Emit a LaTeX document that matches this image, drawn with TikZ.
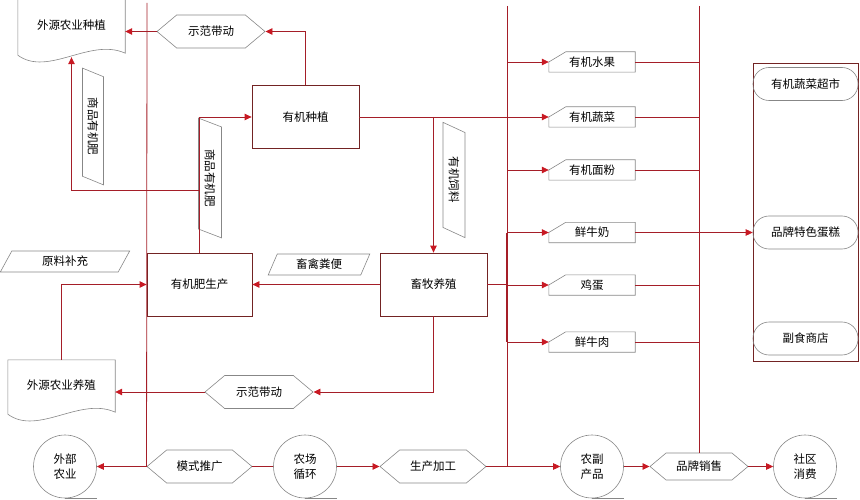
\documentclass[tikz,border=0pt]{standalone}
\usepackage{fontspec}
\newfontfamily\cjk{Noto Sans CJK SC}
\usepackage{tikz}
\usetikzlibrary{shapes.geometric, shapes.symbols, arrows.meta, calc}
\definecolor{flowred}{RGB}{165,30,40}
\definecolor{boxred}{RGB}{115,35,35}
\definecolor{tipred}{RGB}{200,25,35}
\definecolor{shapegray}{RGB}{135,135,135}

\begin{document}
\begin{tikzpicture}[x=1pt, y=-1pt, font=\cjk\fontsize{11.5}{15}\selectfont,
  flow/.style={draw=flowred, line width=0.8pt},
  arr/.style={flow, -{Triangle[length=7pt, width=6.5pt, color=tipred]}},
  shapeline/.style={draw=shapegray, line width=0.6pt},
  boxnode/.style={draw=boxred, line width=0.8pt, minimum width=#1, minimum height=63pt, inner sep=0pt},
  hexnode/.style={signal, signal to=west and east, signal pointer angle=80, shapeline,
    minimum width=#1, minimum height=33pt, inner sep=0pt},
  slantnode/.style={trapezium, trapezium left angle=65, trapezium right angle=115,
    trapezium stretches=true, shapeline, minimum height=21pt, inner sep=0pt},
  docnode/.style={minimum width=107pt, inner sep=0pt},
  prodnode/.style={minimum width=86pt, minimum height=20pt, inner sep=0pt},
  storenode/.style={shapeline, rounded corners=16pt, minimum width=105pt, minimum height=33pt, inner sep=0pt},
  tapenode/.style={circle, shapeline, minimum size=63pt, inner sep=0pt, align=center}]

  \useasboundingbox (0,0) rectangle (860,500);

  % upper part
  \node[docnode, minimum height=52pt] (wyzz) at (71.5,25) {外源农业种植};
  \node[hexnode=108pt] (sfddA) at (211,31.5) {示范带动};
  \node[boxnode=107pt] (yjzz) at (305.5,117) {有机种植};
  \node[slantnode, rotate=-90, minimum width=117pt] (spA) at (93,126.5) {商品有机肥};
  \node[slantnode, rotate=-90, minimum width=120pt, minimum height=23pt] (spB) at (210,178) {商品有机肥};
  \node[slantnode, rotate=-90, minimum width=116pt, minimum height=22pt] (yjsl) at (454,180) {有机饲料};

  % middle part
  \node[slantnode, minimum width=130pt] (ylbc) at (65,261.5) {原料补充};
  \node[boxnode=105pt] (yjfsc) at (199.5,284.5) {有机肥生产};
  \node[slantnode, minimum width=102pt] (xqfb) at (319,264.5) {畜禽粪便};
  \node[boxnode=107pt] (xmyz) at (433.5,284.5) {畜牧养殖};
  \node[docnode, minimum height=50pt] (wyyz) at (61.5,385) {外源农业养殖};
  \node[hexnode=108pt] (sfddB) at (259,392) {示范带动};

  % products
  \node[prodnode] (yjsg) at (592,62) {有机水果};
  \node[prodnode] (yjsc) at (592,117) {有机蔬菜};
  \node[prodnode] (yjmf) at (592,170) {有机面粉};
  \node[prodnode] (xnn) at (592,232.5) {鲜牛奶};
  \node[prodnode] (jd) at (592,285) {鸡蛋};
  \node[prodnode] (xnr) at (592,342) {鲜牛肉};

  % shops
  \node[draw=boxred, line width=0.8pt, minimum width=105pt, minimum height=298pt] (shop) at (805.5,212) {};
  \node[storenode] (yjcs) at (805.5,84) {有机蔬菜超市};
  \node[storenode] (ppdg) at (805.5,232.5) {品牌特色蛋糕};
  \node[storenode] (fssd) at (805.5,338.5) {副食商店};

  % bottom row
  \node[tapenode] (wbny) at (65,466.5) {外部\\农业};
  \node[hexnode=105pt] (mstg) at (199.5,466.5) {模式推广};
  \node[tapenode] (ncxh) at (305,466.5) {农场\\循环};
  \node[hexnode=106pt] (scjg) at (433,466.5) {生产加工};
  \node[tapenode] (nfcp) at (592,466.5) {农副\\产品};
  \node[hexnode=98pt, minimum height=27pt] (ppxs) at (699,466.5) {品牌销售};
  \node[tapenode] (sqxf) at (805,466.5) {社区\\消费};

  % outlines
  \foreach \d in {wyzz, wyyz}
    \draw[shapeline] (\d.north west) -- ([yshift=-4pt]\d.south west)
      .. controls +(30,22) and +(-35,-16) .. ([yshift=-2pt]\d.south east) -- (\d.north east) -- cycle;
  \foreach \p in {yjsg, yjsc, yjmf, xnn, jd, xnr}
    \draw[shapeline] (\p.west) -- ([xshift=17pt]\p.north west) -- (\p.north east)
      -- (\p.south east) -- (\p.south west) -- cycle;
  \foreach \c in {wbny, ncxh, nfcp, sqxf}
    \draw[shapeline] (\c.south) -- (\c.south -| \c.east);

  % buses
  \coordinate (busL) at (147,3);
  \coordinate (busM) at (507,6);
  \coordinate (busR) at (699,6);
  \draw[flow] (busL) -- (mstg.west);
  \draw[flow] (busM) -- (busM |- scjg.east);
  \draw[flow] (busR) -- (ppxs.north);
  \draw[flow, line width=1.8pt] (busM |- xnn.west) -- (busM |- xnr.west);

  % connectors
  \coordinate (spjoin) at (199.5,190);
  \draw[arr] (yjzz.north) |- (sfddA.east);
  \draw[arr] (sfddA.west) -- (sfddA.west -| wyzz.east);
  \draw[arr] (yjfsc.north) |- (yjzz.west);
  \draw[arr] (spjoin) -| ([yshift=-6pt]wyzz.south);
  \draw[arr] (yjzz.east) -- (yjsc.west);
  \draw[flow] (yjsc.east) -- (busR |- yjsc.east);
  \draw[arr] (xmyz.north |- yjzz.east) -- (xmyz.north);
  \foreach \p in {yjsg, yjmf, xnn, jd, xnr}
    \draw[arr] (busM |- \p.west) -- (\p.west);
  \foreach \p in {yjsg, yjmf, jd, xnr}
    \draw[flow] (\p.east) -- (busR |- \p.east);
  \draw[arr] (xnn.east) -- (xnn.east -| ppdg.west);
  \draw[arr] (xmyz.west) -- (yjfsc.east);
  \draw[flow] (xmyz.east) -- (busM |- xmyz.east);
  \draw[arr] (xmyz.south) |- (sfddB.east);
  \draw[arr] (sfddB.west) -- (sfddB.west -| wyyz.east);
  \draw[arr] (wyyz.north) |- (yjfsc.west);
  \draw[arr] (mstg.west) -- (wbny.east);
  \draw[flow] (ncxh.west) -- (mstg.east);
  \draw[arr] (ncxh.east) -- (scjg.west);
  \draw[arr] (scjg.east) -- (nfcp.west);
  \draw[arr] (nfcp.east) -- (ppxs.west);
  \draw[arr] (ppxs.east) -- (sqxf.west);

\end{tikzpicture}
\end{document}
